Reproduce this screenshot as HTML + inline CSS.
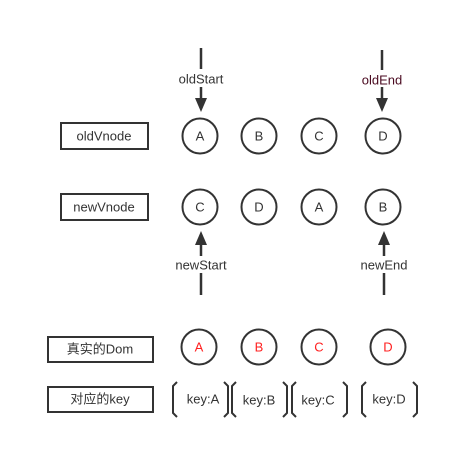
<!DOCTYPE html>
<html><head><meta charset="utf-8"><style>
html,body{margin:0;padding:0;background:#fff;width:449px;height:449px;overflow:hidden}
svg text{font-family:"Liberation Sans","Noto Sans CJK SC",sans-serif;font-size:13px;fill:#333;text-anchor:middle;dominant-baseline:central}
</style></head><body>
<svg width="449" height="449" viewBox="0 0 449 449" xmlns="http://www.w3.org/2000/svg">
<g stroke="#333" stroke-width="2" fill="none">
<rect x="61" y="123" width="87" height="26"/>
<rect x="61" y="194" width="87" height="26"/>
<rect x="48" y="337" width="105" height="25"/>
<rect x="48" y="387" width="105" height="25"/>
</g>
<text x="104" y="136">oldVnode</text>
<text x="104" y="207">newVnode</text>
<text x="100" y="349">真实的Dom</text>
<text x="100" y="399">对应的key</text>
<g stroke="#333" stroke-width="2" fill="#fff">
<circle cx="200" cy="136" r="17.5"/>
<circle cx="259" cy="136" r="17.5"/>
<circle cx="319" cy="136" r="17.5"/>
<circle cx="383" cy="136" r="17.5"/>
<circle cx="200" cy="207" r="17.5"/>
<circle cx="259" cy="207" r="17.5"/>
<circle cx="319" cy="207" r="17.5"/>
<circle cx="383" cy="207" r="17.5"/>
<circle cx="199" cy="347" r="17.5"/>
<circle cx="259" cy="347" r="17.5"/>
<circle cx="319" cy="347" r="17.5"/>
<circle cx="388" cy="347" r="17.5"/>
</g>
<text x="200" y="136">A</text><text x="259" y="136">B</text><text x="319" y="136">C</text><text x="383" y="136">D</text>
<text x="200" y="207">C</text><text x="259" y="207">D</text><text x="319" y="207">A</text><text x="383" y="207">B</text>
<g style="fill:#ff2020">
<text x="199" y="347" style="fill:#ff2020">A</text><text x="259" y="347" style="fill:#ff2020">B</text><text x="319" y="347" style="fill:#ff2020">C</text><text x="388" y="347" style="fill:#ff2020">D</text>
</g>
<g stroke="#333" stroke-width="2.5" fill="none">
<line x1="201" y1="48" x2="201" y2="69"/><line x1="201" y1="87" x2="201" y2="101"/>
<line x1="382" y1="50" x2="382" y2="70"/><line x1="382" y1="87" x2="382" y2="101"/>
<line x1="201" y1="243" x2="201" y2="256"/><line x1="201" y1="273" x2="201" y2="295"/>
<line x1="384" y1="243" x2="384" y2="256"/><line x1="384" y1="273" x2="384" y2="295"/>
</g>
<g fill="#333">
<polygon points="195,98 207,98 201,112"/>
<polygon points="376,98 388,98 382,112"/>
<polygon points="195,245 207,245 201,231"/>
<polygon points="378,245 390,245 384,231"/>
</g>
<text x="201" y="79">oldStart</text>
<text x="382" y="80" style="fill:#4a0a20">oldEnd</text>
<text x="201" y="265">newStart</text>
<text x="384" y="265">newEnd</text>
<g stroke="#333" stroke-width="2" fill="none">
<path d="M177,382 L173,386 L173,413 L177,417"/><path d="M224,382 L228,386 L228,413 L224,417"/>
<path d="M236,382 L232,386 L232,413 L236,417"/><path d="M283,382 L287,386 L287,413 L283,417"/>
<path d="M296,382 L292,386 L292,413 L296,417"/><path d="M343,382 L347,386 L347,413 L343,417"/>
<path d="M366,382 L362,386 L362,413 L366,417"/><path d="M413,382 L417,386 L417,413 L413,417"/>
</g>
<text x="203" y="399">key:A</text>
<text x="259" y="400">key:B</text>
<text x="318" y="400">key:C</text>
<text x="389" y="399">key:D</text>
</svg>
</body></html>
